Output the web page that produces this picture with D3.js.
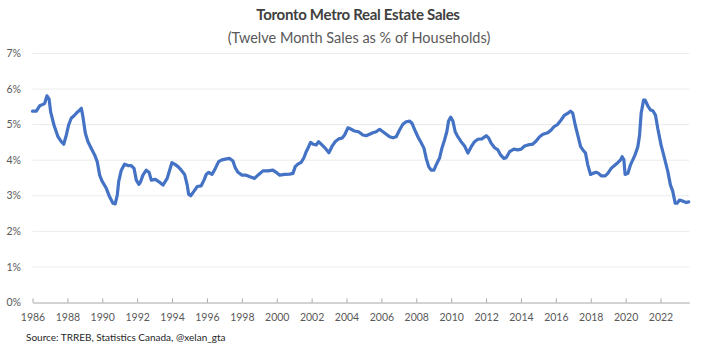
<!DOCTYPE html>
<html>
<head>
    <title>Toronto Metro Real Estate Sales</title>
    <script src="https://d3js.org/d3.v7.min.js"></script>
    <style>
        body { margin: 0; background: #fff; }
        text { font-family: Lato, "Open Sans", sans-serif; }
    </style>
</head>
<body>
    <script>
        // Values (decimal year, % of households)
        const years = [
            1986.00, 1986.22, 1986.41, 1986.60, 1986.70, 1986.83, 1986.95, 1987.04, 1987.23, 1987.46,
            1987.65, 1987.79, 1987.94, 1988.07, 1988.22, 1988.38, 1988.51, 1988.70, 1988.80, 1988.89,
            1989.03, 1989.18, 1989.37, 1989.56, 1989.71, 1989.85, 1989.98, 1990.23, 1990.42, 1990.61,
            1990.74, 1990.86, 1990.94, 1991.09, 1991.28, 1991.47, 1991.66, 1991.82, 1991.95, 1992.10,
            1992.20, 1992.33, 1992.52, 1992.68, 1992.81, 1993.04, 1993.23, 1993.48, 1993.72, 1993.86,
            1993.99, 1994.15, 1994.34, 1994.53, 1994.72, 1994.87, 1994.95, 1995.07, 1995.26, 1995.44,
            1995.67, 1995.83, 1995.96, 1996.10, 1996.29, 1996.48, 1996.67, 1996.86, 1997.05, 1997.30,
            1997.49, 1997.62, 1997.78, 1998.01, 1998.25, 1998.54, 1998.73, 1998.92, 1999.21, 1999.50,
            1999.78, 1999.97, 2000.17, 2000.45, 2000.74, 2000.93, 2001.06, 2001.21, 2001.40, 2001.56,
            2001.69, 2001.83, 2001.94, 2002.09, 2002.26, 2002.40, 2002.59, 2002.78, 2002.99, 2003.16,
            2003.35, 2003.55, 2003.74, 2003.89, 2004.08, 2004.27, 2004.46, 2004.69, 2004.94, 2005.13,
            2005.32, 2005.51, 2005.70, 2005.90, 2006.09, 2006.28, 2006.47, 2006.66, 2006.85, 2007.04,
            2007.23, 2007.42, 2007.62, 2007.75, 2007.90, 2008.09, 2008.28, 2008.44, 2008.57, 2008.71,
            2008.85, 2009.01, 2009.14, 2009.34, 2009.47, 2009.62, 2009.75, 2009.85, 2009.97, 2010.10,
            2010.23, 2010.38, 2010.57, 2010.77, 2010.96, 2011.15, 2011.34, 2011.53, 2011.76, 2012.01,
            2012.14, 2012.29, 2012.49, 2012.68, 2012.83, 2013.02, 2013.15, 2013.35, 2013.59, 2013.82,
            2014.01, 2014.21, 2014.40, 2014.68, 2014.87, 2015.07, 2015.26, 2015.54, 2015.73, 2015.89,
            2016.11, 2016.30, 2016.50, 2016.69, 2016.84, 2016.97, 2017.11, 2017.26, 2017.42, 2017.55,
            2017.70, 2017.83, 2017.99, 2018.12, 2018.31, 2018.45, 2018.60, 2018.83, 2018.98, 2019.17,
            2019.36, 2019.55, 2019.71, 2019.80, 2019.90, 2019.97, 2020.13, 2020.28, 2020.41, 2020.54,
            2020.70, 2020.80, 2020.89, 2021.03, 2021.12, 2021.27, 2021.43, 2021.56, 2021.71, 2021.84,
            2022.03, 2022.23, 2022.42, 2022.57, 2022.70, 2022.84, 2022.95, 2023.09, 2023.28, 2023.47,
            2023.62
        ];
        const sales = [
            5.38, 5.38, 5.53, 5.57, 5.60, 5.81, 5.72, 5.36, 4.99, 4.66,
            4.52, 4.45, 4.71, 4.99, 5.18, 5.25, 5.32, 5.41, 5.46, 5.22,
            4.76, 4.52, 4.33, 4.15, 3.96, 3.58, 3.42, 3.21, 2.97, 2.79,
            2.77, 3.02, 3.40, 3.72, 3.89, 3.85, 3.85, 3.77, 3.44, 3.32,
            3.40, 3.58, 3.72, 3.66, 3.44, 3.46, 3.40, 3.30, 3.49, 3.72,
            3.93, 3.89, 3.82, 3.72, 3.60, 3.30, 3.04, 3.00, 3.13, 3.26,
            3.28, 3.44, 3.60, 3.66, 3.60, 3.77, 3.96, 4.01, 4.03, 4.05,
            3.98, 3.79, 3.66, 3.58, 3.58, 3.52, 3.49, 3.58, 3.70, 3.70,
            3.72, 3.66, 3.58, 3.60, 3.61, 3.63, 3.82, 3.89, 3.94, 4.07,
            4.24, 4.38, 4.50, 4.45, 4.43, 4.52, 4.43, 4.34, 4.21, 4.38,
            4.52, 4.60, 4.62, 4.71, 4.91, 4.87, 4.82, 4.80, 4.71, 4.69,
            4.73, 4.77, 4.80, 4.87, 4.80, 4.73, 4.66, 4.63, 4.66, 4.85,
            5.01, 5.08, 5.10, 5.04, 4.87, 4.66, 4.49, 4.34, 4.05, 3.82,
            3.72, 3.72, 3.87, 4.07, 4.34, 4.57, 4.80, 5.10, 5.21, 5.10,
            4.80, 4.66, 4.52, 4.40, 4.20, 4.38, 4.52, 4.59, 4.60, 4.69,
            4.63, 4.48, 4.35, 4.29, 4.15, 4.05, 4.07, 4.24, 4.31, 4.29,
            4.31, 4.40, 4.43, 4.45, 4.54, 4.66, 4.73, 4.77, 4.85, 4.94,
            5.01, 5.13, 5.27, 5.32, 5.38, 5.32, 4.99, 4.70, 4.38, 4.29,
            4.20, 3.87, 3.60, 3.63, 3.66, 3.63, 3.56, 3.56, 3.63, 3.77,
            3.85, 3.93, 4.01, 4.10, 4.01, 3.60, 3.63, 3.87, 4.01, 4.15,
            4.38, 4.71, 5.32, 5.69, 5.69, 5.53, 5.41, 5.39, 5.27, 4.90,
            4.43, 4.05, 3.68, 3.30, 3.13, 2.79, 2.79, 2.88, 2.85, 2.81,
            2.83
        ];
        const tickYears = d3.range(1986, 2023, 2);
        const tickPercents = [0, 1, 2, 3, 4, 5, 6, 7];

        const W = 703, H = 350;
        const plot = {left: 32.5, right: 689.3, top: 53.5, bottom: 302.5};

        const svg = d3.select("body")
          .append("svg")
            .attr("width", W)
            .attr("height", H);

        const x = d3.scaleLinear()
          .domain([1986, 2023.65])
          .range([plot.left, plot.right]);

        const y = d3.scaleLinear()
          .domain([0, 7])
          .range([plot.bottom, plot.top]);

        // gridlines
        svg.append("g")
          .selectAll("line")
          .data(tickPercents.slice(1))
          .enter()
          .append("line")
            .attr("x1", plot.left)
            .attr("x2", plot.right)
            .attr("y1", d => y(d))
            .attr("y2", d => y(d))
            .attr("stroke", "#ebebeb")
            .attr("stroke-width", 1);

        // Y axis labels
        svg.append("g")
          .selectAll("text")
          .data(tickPercents)
          .enter()
          .append("text")
            .attr("x", 21)
            .attr("y", d => y(d))
            .attr("dy", "0.35em")
            .attr("text-anchor", "end")
            .attr("fill", "#595959")
            .style("font-size", "10.5px")
            .text(d => d + "%");

        // X axis
        const xAxis = svg.append("g")
          .attr("transform", `translate(0, ${plot.bottom})`)
          .call(d3.axisBottom(x)
            .tickValues(tickYears)
            .tickFormat(d3.format("d"))
            .tickSizeInner(-4)
            .tickSizeOuter(0)
            .tickPadding(11));
        xAxis.select(".domain").attr("stroke", "#a6a6a6");
        xAxis.selectAll(".tick line").attr("stroke", "#a6a6a6");
        xAxis.selectAll(".tick text")
          .attr("fill", "#595959")
          .style("font-family", "Lato, sans-serif")
          .style("font-size", "10.5px");

        // the line
        const data = years.map((yr, i) => ({year: yr, value: sales[i]}));
        svg.append("path")
          .datum(data)
          .attr("fill", "none")
          .attr("stroke", "#4472c4")
          .attr("stroke-width", 3.2)
          .attr("stroke-linejoin", "round")
          .attr("stroke-linecap", "round")
          .attr("d", d3.line()
            .x(d => x(d.year))
            .y(d => y(d.value)));

        // titles
        svg.append("text")
          .attr("x", 358)
          .attr("y", 20)
          .attr("text-anchor", "middle")
          .attr("fill", "#404040")
          .style("font-size", "15px")
          .style("font-weight", "bold")
          .style("letter-spacing", "-0.3px")
          .text("Toronto Metro Real Estate Sales");

        svg.append("text")
          .attr("x", 359)
          .attr("y", 43)
          .attr("text-anchor", "middle")
          .attr("fill", "#595959")
          .style("font-size", "14.5px")
          .text("(Twelve Month Sales as % of Households)");

        // source note
        svg.append("text")
          .attr("x", 26)
          .attr("y", 341)
          .attr("fill", "#262626")
          .style("font-size", "10px")
          .text("Source: TRREB, Statistics Canada, @xelan_gta");
    </script>
</body>
</html>
